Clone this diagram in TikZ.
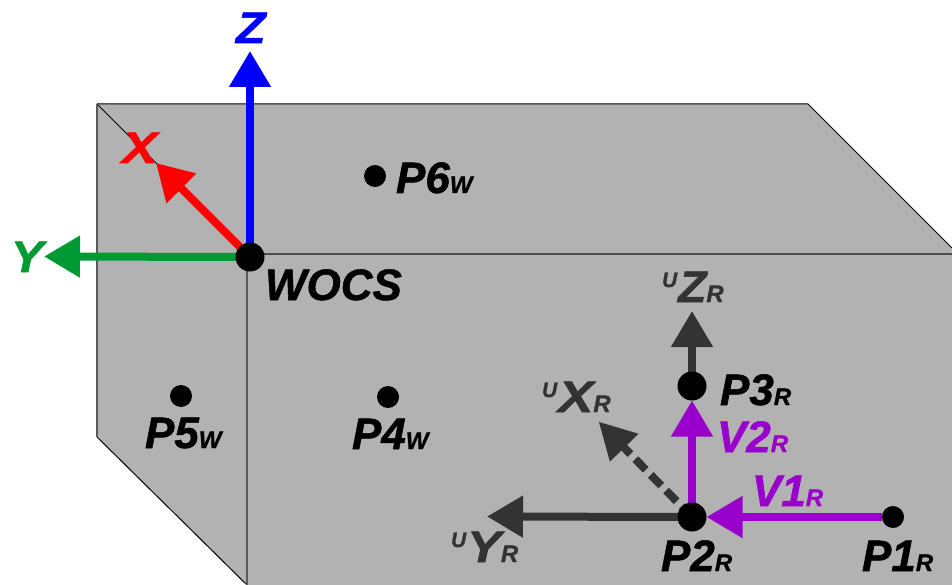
\documentclass[tikz,border=0pt]{standalone}
\usepackage{fontspec}
\setmainfont[BoldItalicFeatures={FakeBold=1.2}]{Liberation Sans}
\usetikzlibrary{arrows.meta,backgrounds,calc}
\newcommand{\labf}{\fontsize{44}{44}\selectfont\bfseries\itshape}
\newcommand{\subf}[1]{{\fontsize{24}{24}\selectfont\bfseries\itshape #1}}
\newcommand{\supf}[1]{\raisebox{15pt}{\fontsize{21}{21}\selectfont\bfseries\itshape #1}\kern1pt}
\newcommand{\widef}[2]{\scalebox{#1}[1]{#2}}
\tikzset{
  every node/.style={inner sep=0pt,outer sep=0pt},
  bigdot/.style={circle,fill=black,minimum size=29pt},
  smalldot/.style={circle,fill=black,minimum size=22pt},
  lab/.style={anchor=base west,font=\labf},
  axis/.style={line width=8pt,-{Triangle[length=36pt,width=40pt]}},
  ruax/.style={axis,draw=axdark},
  edge/.style={draw=black!65,line width=1.2pt}
}
\definecolor{boxgray}{HTML}{B2B2B2}
\definecolor{axdark}{HTML}{333333}
\definecolor{vpurple}{HTML}{9900CC}
\definecolor{ygreen}{HTML}{009933}
\begin{document}
\begin{tikzpicture}[x=1pt,y=-1pt]
\useasboundingbox (0,0) rectangle (952,585);
% points
\node[bigdot] (wocs) at (250,257) {};
\node[smalldot] (p6) at (375,176) {};
\node[smalldot] (p5) at (181,396) {};
\node[smalldot] (p4) at (388,397) {};
\node[bigdot] (p3) at (692,386) {};
\node[bigdot] (p2) at (692,517) {};
\node[smalldot] (p1) at (893,517) {};
% free ends
\coordinate (zt) at (250,51);
\coordinate (yt) at (44,256.5);
\coordinate (xt) at (156,163);
\coordinate (uzt) at (692,311);
\coordinate (uxt) at (599,422);
\coordinate (uyt) at (487,516.5);
% box corners
\coordinate (a) at (97,104);
\coordinate (b) at (808,104);
\coordinate (c) at (952,248);
\coordinate (d) at (952,585);
\coordinate (e) at (247,585);
\coordinate (f) at (97,437);
\coordinate (g) at (247,254);
\coordinate (h) at (952,254);
\begin{scope}[on background layer]
  \fill[boxgray] (a) -- (b) -- (c) -- (d) -- (e) -- (f) -- cycle;
  \draw[black,line width=1pt] (f) -- (e);
  \draw[black,line width=1pt] (a) -- (b) -- (c);
  \draw[black,line width=.8pt] (a) -- (g);
  \draw[edge] (a) -- (f);
  \draw[edge] (g) -- (e);
  \draw[draw=black!70,line width=1.6pt] (g) -- (h);
  \draw[axis,draw=blue,blue] (wocs.center) -- (zt);
  \draw[axis,draw=red,red] (wocs.center) -- (xt);
  \draw[axis,draw=ygreen,ygreen] (wocs.center) -- (yt);
  \draw[ruax,axdark] (p3.center) -- (uzt);
  \draw[ruax,axdark] (p2.center) -- (uyt);
  \draw[line width=8pt,axdark,dash pattern=on 15pt off 7pt] (p2.center) -- ($(p2)!0.84!(uxt)$);
  \draw[ruax,axdark,line width=0pt] ($(p2)!0.80!(uxt)$) -- (uxt);
  \draw[axis,draw=vpurple,vpurple] (p1) -- (p2);
  \draw[axis,draw=vpurple,vpurple] (p2) -- (p3);
\end{scope}
% labels
\node[lab,blue] (lz) at (236,43) {\widef{1.1}{Z}};
\node[lab,red] (lx) at (122,163) {\widef{1.2}{X}};
\node[lab,ygreen] (ly) at (11,272) {\widef{1.1}{Y}};
\node[lab] (lw) at (265,300) {WOCS};
\node[lab] (l6) at (396,193) {P6\subf{W}};
\node[lab] (l5) at (145,448) {P5\subf{W}};
\node[lab] (l4) at (352,449) {P4\subf{W}};
\node[lab] (l3) at (720,405) {P3\subf{R}};
\node[lab] (l2) at (661,571) {P2\subf{R}};
\node[lab] (l1) at (862,571) {P1\subf{R}};
\node[lab,vpurple] (lv2) at (717,452) {V2\subf{R}};
\node[lab,vpurple] (lv1) at (752,506) {V1\subf{R}};
\node[lab,axdark] (luz) at (662,302) {\supf{U}\widef{1.05}{Z}\subf{R}};
\node[lab,axdark] (lux) at (542,412) {\supf{U}\widef{1.2}{X}\subf{R}};
\node[lab,axdark] (luy) at (451,562) {\supf{U}\widef{1.15}{Y}\subf{R}};
\end{tikzpicture}
\end{document}
